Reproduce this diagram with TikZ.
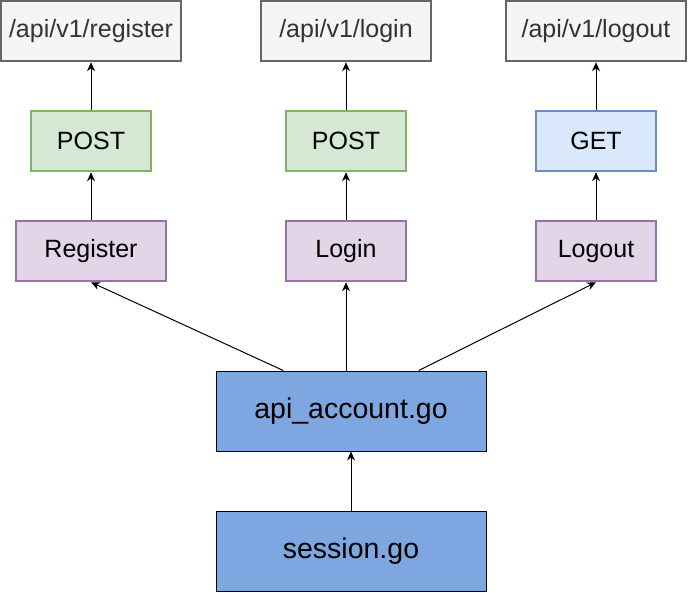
\documentclass[tikz,border=0pt]{standalone}
\usepackage{fontspec}
\setmainfont{Liberation Sans}
\usetikzlibrary{calc,arrows.meta}
\definecolor{grayfill}{HTML}{F5F5F5}
\definecolor{graydraw}{HTML}{666666}
\definecolor{graytext}{HTML}{333333}
\definecolor{greenfill}{HTML}{D5E8D4}
\definecolor{greendraw}{HTML}{82B366}
\definecolor{bluefill}{HTML}{DAE8FC}
\definecolor{bluedraw}{HTML}{6C8EBF}
\definecolor{purplefill}{HTML}{E1D5E7}
\definecolor{purpledraw}{HTML}{9673A6}
\definecolor{darkblue}{HTML}{7EA6E0}
\tikzset{
  box/.style={rectangle, inner sep=0pt, minimum height=60pt, font=\fontsize{25}{29}\selectfont, line width=2.5pt},
  apibox/.style={box, fill=grayfill, draw=graydraw, text=graytext},
  postbox/.style={box, fill=greenfill, draw=greendraw, minimum width=120pt},
  getbox/.style={box, fill=bluefill, draw=bluedraw, minimum width=120pt},
  funcbox/.style={box, fill=purplefill, draw=purpledraw},
  filebox/.style={rectangle, inner sep=0pt, minimum width=270pt, minimum height=80pt, fill=darkblue, draw=black, line width=1pt, font=\fontsize{28.5}{32}\selectfont},
  conn/.style={line width=1pt, -{Stealth[length=9pt,width=8pt]}}
}
\begin{document}
\begin{tikzpicture}[x=1pt,y=-1pt]
\useasboundingbox (0,0) rectangle (688,592);
\node[apibox, minimum width=180pt] (apireg) at (91,31) {/api/v1/register};
\node[apibox, minimum width=170pt] (apilogin) at (346,31) {/api/v1/login};
\node[apibox, minimum width=180pt] (apilogout) at (596,31) {/api/v1/logout};
\node[postbox] (post1) at (91,141) {POST};
\node[postbox] (post2) at (346,141) {POST};
\node[getbox] (get) at (596,141) {GET};
\node[funcbox, minimum width=150pt] (register) at (91,251) {Register};
\node[funcbox, minimum width=120pt] (login) at (346,251) {Login};
\node[funcbox, minimum width=120pt] (logout) at (596,251) {Logout};
\node[filebox] (acc) at (351,411) {api\_account.go};
\node[filebox] (sess) at (351,551) {session.go};
\coordinate (accL) at ($(acc.north west)!0.25!(acc.north east)$);
\coordinate (accR) at ($(acc.north west)!0.75!(acc.north east)$);
\coordinate (accM) at (acc.north -| login.south);
\draw[conn] (post1) -- (apireg);
\draw[conn] (post2) -- (apilogin);
\draw[conn] (get) -- (apilogout);
\draw[conn] (register) -- (post1);
\draw[conn] (login) -- (post2);
\draw[conn] (logout) -- (get);
\draw[conn] (accL) -- (register.south);
\draw[conn] (accM) -- (login.south);
\draw[conn] (accR) -- (logout.south);
\draw[conn] (sess) -- (acc);
\end{tikzpicture}
\end{document}
